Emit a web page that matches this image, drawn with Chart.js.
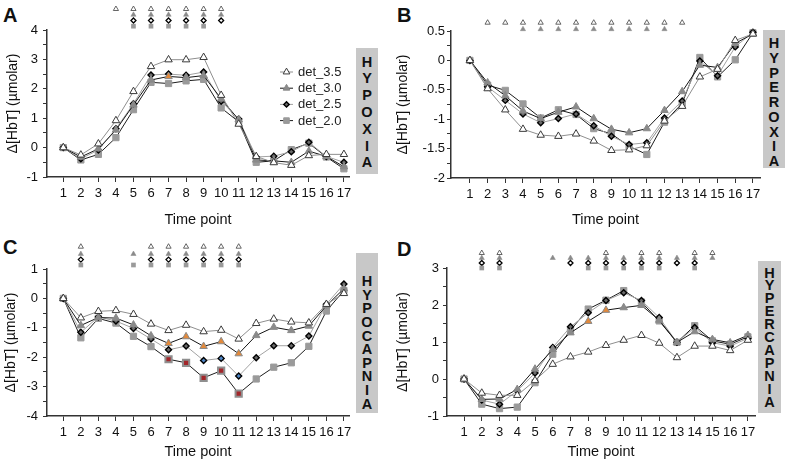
<!DOCTYPE html>
<html><head><meta charset="utf-8">
<script src="https://cdn.jsdelivr.net/npm/chart.js@4/dist/chart.umd.min.js"></script>
<style>
html,body{margin:0;padding:0;background:#fff}
body{width:787px;height:462px;position:relative;overflow:hidden;font-family:"Liberation Sans",Arial,sans-serif}
canvas{position:absolute}
.plet{position:absolute;font-weight:bold;font-size:20px;line-height:20px;color:#111}
.side{position:absolute;background:#c8c8c8;font-weight:bold;font-size:14.5px;text-align:center;color:#111;box-sizing:border-box}
.side span{display:block}
</style></head><body>
<script>
// ---------- data ----------
const timePoints = [1,2,3,4,5,6,7,8,9,10,11,12,13,14,15,16,17];
const seriesNames = ['det_3.5','det_3.0','det_2.5','det_2.0'];

// A: Hypoxia
const A_det35 = [0,-0.25,0.13,0.92,1.91,2.76,2.99,2.99,3.07,1.78,0.80,-0.30,-0.51,-0.60,-0.27,-0.23,-0.23];
const A_det30 = [0,-0.32,-0.04,0.60,1.45,2.30,2.42,2.38,2.45,1.66,0.95,-0.42,-0.45,-0.50,-0.12,-0.30,-0.65];
const A_det25 = [0,-0.38,-0.08,0.64,1.49,2.47,2.50,2.46,2.57,1.58,0.97,-0.32,-0.29,-0.14,0.18,-0.30,-0.50];
const A_det20 = [0,-0.42,-0.23,0.34,1.29,2.22,2.18,2.27,2.32,1.35,0.88,-0.50,-0.45,-0.07,0.15,-0.32,-0.72];
// B: Hyperoxia
const B_det35 = [0,-0.48,-0.84,-1.17,-1.27,-1.29,-1.25,-1.37,-1.53,-1.52,-1.45,-1.03,-0.78,-0.28,-0.15,0.34,0.45];
const B_det30 = [0,-0.38,-0.60,-0.86,-0.99,-0.88,-0.79,-0.99,-1.17,-1.23,-1.16,-0.85,-0.53,-0.08,-0.12,0.29,0.45];
const B_det25 = [0,-0.45,-0.68,-0.91,-1.06,-0.99,-0.91,-1.11,-1.29,-1.43,-1.40,-0.98,-0.69,-0.01,-0.26,0.23,0.48];
const B_det20 = [0,-0.42,-0.51,-0.74,-0.98,-0.84,-0.92,-1.16,-1.25,-1.46,-1.60,-1.05,-0.73,0.05,-0.28,0.01,0.47];
// C: Hypocapnia
const C_det35 = [0,-0.66,-0.44,-0.41,-0.54,-0.87,-1.09,-0.91,-1.13,-1.08,-1.38,-0.85,-0.70,-0.80,-0.83,-0.20,0.17];
const C_det30 = [0,-0.92,-0.65,-0.67,-0.90,-1.27,-1.53,-1.30,-1.63,-1.47,-1.88,-1.26,-0.98,-1.09,-0.94,-0.25,0.33];
const C_det25 = [0,-1.15,-0.63,-0.77,-1.02,-1.38,-1.75,-1.62,-2.11,-2.04,-2.64,-2.02,-1.61,-1.61,-1.28,-0.20,0.49];
const C_det20 = [0,-1.34,-0.68,-0.84,-1.29,-1.64,-2.07,-2.19,-2.70,-2.46,-3.24,-2.74,-2.34,-2.19,-1.63,-0.43,0.27];
// D: Hypercapnia
const D_det35 = [0,-0.38,-0.44,-0.44,-0.04,0.40,0.60,0.73,0.91,1.05,1.18,0.97,0.58,0.89,0.89,0.77,1.05];
const D_det30 = [0,-0.55,-0.54,-0.28,0.27,0.80,1.25,1.56,1.86,1.93,1.99,1.59,0.99,1.28,1.07,0.98,1.18];
const D_det25 = [0,-0.57,-0.68,-0.32,0.16,0.85,1.41,1.79,2.12,2.33,2.12,1.66,0.99,1.39,0.98,0.89,1.10];
const D_det20 = [0,-0.68,-0.80,-0.76,-0.10,0.67,1.32,1.89,2.13,2.39,2.08,1.57,0.99,1.44,1.03,0.94,1.14];

// significance markers (time points), per series
const A_sig = [[4,5,6,7,8,9,10],[5,6,7,8,9,10],[5,6,7,8,9,10],[5,6,7,8,9]];
const B_sig = [[2,3,4,5,6,7,8,9,10,11,12,13],[4,5,6,7,8,9,10,11,12],[],[]];
const C_sig = [[2,6,7,8,9,10,11],[2,5,6,7,8,9,10,11],[2,6,7,8,9,10,11],[2,5,6,7,8,9,10,11]];
const D_sig = [[2,3,9,11,12,14,15],[2,3,6,7,8,9,10,11,12,13,14,15],[2,3,7,8,9,10,11,12,13,14],[2,3,8,9,10,11,12,14]];

// highlighted (colour-centred) points, per series
const A_hl = [[],[7],[],[]];
const B_hl = [[],[],[],[]];
const C_hl = [[],[7,8,9,10,11],[9,10,11],[7,8,9,10,11]];
const D_hl = [[],[8,9],[],[]];

// y-axis tick definitions
const A_yTicks = {min:-1, max:4, minor:0.5, major:1};
const B_yTicks = {min:-2, max:0.5, minor:0.25, major:0.5};
const C_yTicks = {min:-4, max:1, minor:0.5, major:1};
const D_yTicks = {min:-1, max:3, minor:0.5, major:1};

// ---------- styling ----------
const FONT = '"Liberation Sans", Arial, sans-serif';
const styles = [
  {line:'#8e8e8e', pt:'triangle', r:4.3, bg:'#ffffff', bd:'#3a3a3a', bw:1},
  {line:'#151515', pt:'triangle', r:4.3, bg:'#8a8a8a', bd:'#8a8a8a', bw:1},
  {line:'#a2a2a2', pt:'rectRot', r:3.0, bg:'#6a6a6a', bd:'#000000', bw:1.4},
  {line:'#1c1c1c', pt:'rect', r:4.4, bg:'#9a9a9a', bd:'#9a9a9a', bw:1}
];
const hlColors = [null,'#e2893b','#4f86c6','#a3262a'];

function drawShape(ctx, kind, x, y, r, fill, stroke, lw){
  ctx.save();
  ctx.beginPath();
  if(kind==='triangle'){
    ctx.moveTo(x, y - r);
    ctx.lineTo(x + r*0.866, y + r*0.5);
    ctx.lineTo(x - r*0.866, y + r*0.5);
    ctx.closePath();
  } else if(kind==='rect'){
    const s = r*Math.SQRT1_2;
    ctx.rect(x-s, y-s, 2*s, 2*s);
  } else {
    ctx.moveTo(x, y-r); ctx.lineTo(x+r, y); ctx.lineTo(x, y+r); ctx.lineTo(x-r, y); ctx.closePath();
  }
  ctx.fillStyle = fill; ctx.fill();
  if(lw>0){ ctx.lineWidth = lw; ctx.strokeStyle = stroke; ctx.stroke(); }
  ctx.restore();
}

const sigStyles = [
  {kind:'triangle', r:3.0, fill:'#fff', stroke:'#555', lw:0.9},
  {kind:'triangle', r:3.0, fill:'#8a8a8a', stroke:'#8a8a8a', lw:0.5},
  {kind:'rectRot', r:2.5, fill:'#fff', stroke:'#000', lw:1.3},
  {kind:'rect', r:3.3, fill:'#9a9a9a', stroke:'#9a9a9a', lw:0}
];

const panels = [
  {id:'A', title:'HYPOXIA', left:0, top:0, w:390, h:230, area:{l:47,t:30,r:349,b:177}, xmin:0.07, xmax:17.29,
   yt:A_yTicks, data:[A_det35,A_det30,A_det25,A_det20], sig:A_sig, sigOff:[21,15.2,9.5,3.8], hl:A_hl, legend:true, ypad:5, ytitleX:13,
   box:{l:356,t:48,w:22,h:126,first:14,lh:16.8}, letter:{l:3,t:5}},
  {id:'B', title:'HYPEROXIA', left:390, top:0, w:397, h:230, area:{l:61,t:31,r:370,b:178}, xmin:-0.07, xmax:17.4,
   yt:B_yTicks, data:[B_det35,B_det30,B_det25,B_det20], sig:B_sig, sigOff:[8.3,1.8], hl:B_hl, legend:false, ypad:2, ytitleX:13,
   box:{l:763,t:30,w:22,h:138,first:13.5,lh:14.75}, letter:{l:397,t:5}},
  {id:'C', title:'HYPOCAPNIA', left:0, top:230, w:390, h:232, area:{l:47,t:39,r:349,b:186}, xmin:0.07, xmax:17.29,
   yt:C_yTicks, data:[C_det35,C_det30,C_det25,C_det20], sig:C_sig, sigOff:[22.3,15,9.4,4], hl:C_hl, legend:false, ypad:5, ytitleX:11,
   box:{l:356,t:253,w:22,h:160,first:29,lh:13.6}, letter:{l:3,t:237}},
  {id:'D', title:'HYPERCAPNIA', left:390, top:230, w:397, h:232, area:{l:57,t:38,r:365,b:186}, xmin:0.04, xmax:17.4,
   yt:D_yTicks, data:[D_det35,D_det30,D_det25,D_det20], sig:D_sig, sigOff:[15,10,5,0], hl:D_hl, legend:false, ypad:4, ytitleX:13,
   box:{l:758,t:261,w:23,h:152,first:12,lh:12.9}, letter:{l:397,t:239}}
];

function buildYTicks(yt){
  const out = [];
  const n = Math.round((yt.max - yt.min)/yt.minor);
  for(let i=0;i<=n;i++) out.push({value: +(yt.min + i*yt.minor).toFixed(4)});
  return out;
}

panels.forEach(p => {
  const L = document.createElement('div');
  L.className = 'plet'; L.textContent = p.id;
  L.style.left = p.letter.l + 'px'; L.style.top = p.letter.t + 'px';
  document.body.appendChild(L);
  const B = document.createElement('div');
  B.className = 'side';
  Object.assign(B.style, {left:p.box.l+'px', top:p.box.t+'px', width:p.box.w+'px', height:p.box.h+'px',
    paddingTop:(p.box.first - p.box.lh/2)+'px', lineHeight:p.box.lh+'px'});
  p.title.split('').forEach(ch => { const s = document.createElement('span'); s.textContent = ch; B.appendChild(s); });
  document.body.appendChild(B);

  const cv = document.createElement('canvas');
  cv.width = p.w; cv.height = p.h;
  cv.style.left = p.left + 'px'; cv.style.top = p.top + 'px';
  cv.style.width = p.w + 'px'; cv.style.height = p.h + 'px';
  document.body.appendChild(cv);

  const datasets = p.data.map((vals, si) => {
    const st = styles[si];
    const hl = p.hl[si];
    const bgs = timePoints.map(t => hl.includes(t) ? hlColors[si] : st.bg);
    const bds = timePoints.map(t => (hl.includes(t) && si===3) ? '#8f8f8f' : st.bd);
    const bws = timePoints.map(t => (hl.includes(t) && si===3) ? 2 : st.bw);
    return {
      label: seriesNames[si],
      data: timePoints.map((t, i) => ({x: t, y: vals[i]})),
      borderColor: st.line, borderWidth: 1, tension: 0, fill: false,
      pointStyle: st.pt, pointRadius: st.r, pointBackgroundColor: bgs,
      pointBorderColor: bds, pointBorderWidth: bws, clip: false
    };
  });

  const overlay = {
    id: 'overlay' + p.id,
    afterDatasetsDraw(chart){
      const {ctx, chartArea, scales} = chart;
      p.sig.forEach((row, ri) => {
        const ss = sigStyles[ri];
        const y = chartArea.top - p.sigOff[ri];
        row.forEach(t => drawShape(ctx, ss.kind, scales.x.getPixelForValue(t), y, ss.r, ss.fill, ss.stroke, ss.lw));
      });
      if(p.legend){
        ctx.save();
        ctx.font = '13px ' + FONT;
        ctx.textBaseline = 'middle';
        seriesNames.forEach((nm, si) => {
          const st = styles[si];
          const y = 72 + si*16.2;
          ctx.beginPath(); ctx.strokeStyle = st.line; ctx.lineWidth = 1;
          ctx.moveTo(280, y); ctx.lineTo(293, y); ctx.stroke();
          drawShape(ctx, st.pt, 286.5, y, st.r*0.9, st.bg, st.bd, st.bw);
          ctx.fillStyle = '#222';
          ctx.fillText(nm, 298, y + 0.5);
        });
        ctx.restore();
      }
    }
  };

  new Chart(cv, {
    type: 'line',
    data: {datasets},
    options: {
      responsive: false, animation: false, devicePixelRatio: 1,
      layout: {padding: {left: 0, top: p.area.t, right: p.w - p.area.r, bottom: 0}},
      plugins: {legend: {display: false}, tooltip: {enabled: false}},
      scales: {
        x: {
          type: 'linear', min: p.xmin, max: p.xmax,
          afterBuildTicks: s => { s.ticks = timePoints.map(v => ({value: v})); },
          afterFit: s => { s.height = p.h - p.area.b; },
          grid: {display: true, drawOnChartArea: false, drawTicks: true, tickLength: 5, color: '#333', tickWidth: 1},
          border: {display: true, color: '#333', width: 1.5},
          ticks: {color: '#111', font: {size: 13, family: FONT}, padding: 4, maxRotation: 0, autoSkip: false},
          title: {display: true, text: 'Time point', color: '#111', font: {size: 14.5, family: FONT}, padding: {top: 0, bottom: 1}}
        },
        y: {
          type: 'linear', min: p.yt.min, max: p.yt.max,
          afterBuildTicks: s => { s.ticks = buildYTicks(p.yt); },
          afterFit: s => { s.width = p.area.l; },
          grid: {display: true, drawOnChartArea: false, drawTicks: true, tickLength: 4, color: '#333', tickWidth: 1},
          border: {display: true, color: '#333', width: 1.5},
          ticks: {
            color: '#111', font: {size: 13, family: FONT}, padding: p.ypad, autoSkip: false,
            callback: v => {
              const q = v / p.yt.major;
              return Math.abs(q - Math.round(q)) < 1e-6 ? String(+v.toFixed(2)) : '';
            }
          },
          title: {display: true, text: 'Δ[HbT] (µmolar)', color: '#111', font: {size: 14, family: FONT},
                  padding: {top: p.ytitleX - 8.4, bottom: 0}}
        }
      }
    },
    plugins: [overlay]
  });
});
</script>
</body></html>
